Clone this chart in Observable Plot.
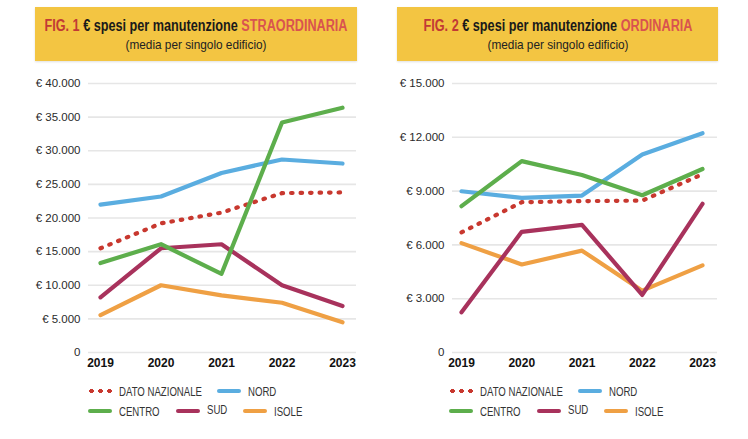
<!DOCTYPE html>
<html>
<head>
<meta charset="utf-8">
<script src="https://cdn.jsdelivr.net/npm/d3@7"></script>
<script src="https://cdn.jsdelivr.net/npm/@observablehq/plot@0.6"></script>
<style>
  html, body { margin: 0; padding: 0; background: #fff; }
  body { width: 748px; height: 439px; position: relative; overflow: hidden;
         font-family: "Liberation Sans", Arial, sans-serif; }
  .header { position: absolute; top: 7px; height: 54px; background: #F3C542;
            box-shadow: 0 1px 2px rgba(0,0,0,0.12); }
  .fit { position: absolute; left: 50%; white-space: nowrap; transform-origin: center; }
  .title { top: 9px; font-weight: bold; font-size: 16px; color: #1a1a1a; line-height: 19px; }
  .title .fig { color: #C23A35; }
  .title .kind { color: #D9534F; }
  .sub { top: 30px; font-size: 13px; color: #222; line-height: 16px; }
  .chart { position: absolute; top: 62px; }
  .legend { position: absolute; top: 380px; width: 374px; height: 50px; font-size: 13px; color: #333; }
  .item { position: absolute; display: flex; align-items: center; height: 16px; white-space: nowrap; }
  .item span { display: inline-block; transform-origin: left center; }
  .sw { width: 24px; height: 4px; border-radius: 2px; margin-right: 7px; flex: none; }
  .dots { width: 24px; height: 4px; margin-right: 7px; flex: none;
          background-image: radial-gradient(circle, #C8382F 2.1px, transparent 2.4px);
          background-size: 9px 4px; background-repeat: repeat-x; background-position: -1px 0; }
</style>
</head>
<body>
<div class="header" style="left:35px;width:322px;">
  <div class="fit title" data-w="303"><span class="fig">FIG. 1</span> € spesi per manutenzione <span class="kind">STRAORDINARIA</span></div>
  <div class="fit sub" data-w="141">(media per singolo edificio)</div>
</div>
<div class="header" style="left:397px;width:321px;">
  <div class="fit title" data-w="269"><span class="fig">FIG. 2</span> € spesi per manutenzione <span class="kind">ORDINARIA</span></div>
  <div class="fit sub" data-w="141">(media per singolo edificio)</div>
</div>
<div id="c1" class="chart" style="left:0px;"></div>
<div id="c2" class="chart" style="left:374px;"></div>
<div id="l1" class="legend" style="left:0px;"></div>
<div id="l2" class="legend" style="left:361px;"></div>
<script>
const years = [2019, 2020, 2021, 2022, 2023];
const seriesNames = ["DATO NAZIONALE", "NORD", "CENTRO", "SUD", "ISOLE"];
const seriesColors = ["#C8382F", "#5AADE0", "#5DAE4C", "#A8325C", "#EFA044"];

// FIG. 1 – manutenzione straordinaria
const strNazionale = [15500, 19200, 20800, 23700, 23800];
const strNord      = [22000, 23200, 26700, 28700, 28100];
const strCentro    = [13300, 16100, 11700, 34200, 36400];
const strSud       = [8200, 15500, 16100, 10000, 6900];
const strIsole     = [5550, 10000, 8500, 7400, 4500];
const strTicks     = [0, 5000, 10000, 15000, 20000, 25000, 30000, 35000, 40000];

// FIG. 2 – manutenzione ordinaria
const ordNazionale = [6700, 8380, 8440, 8470, 9940];
const ordNord      = [8990, 8620, 8750, 11040, 12230];
const ordCentro    = [8160, 10670, 9900, 8770, 10230];
const ordSud       = [2240, 6730, 7120, 3210, 8290];
const ordIsole     = [6100, 4910, 5680, 3450, 4860];
const ordTicks     = [0, 3000, 6000, 9000, 12000, 15000];

function table(arrs) {
  const rows = [];
  arrs.forEach((vals, i) => vals.forEach((v, j) => rows.push({series: seriesNames[i], year: years[j], value: v})));
  return rows;
}
const fmt = d => d === 0 ? "0" : "€ " + d3.format(",")(d).replace(/,/g, ".");

function chart(arrs, ticks, opts) {
  const data = table(arrs);
  const drawOrder = ["ISOLE", "SUD", "DATO NAZIONALE", "NORD", "CENTRO"];
  const marks = [
    Plot.gridY(ticks, {stroke: "#e6e6e6", strokeOpacity: 1, strokeWidth: 1.6}),
    Plot.axisY({ticks, tickFormat: fmt, tickSize: 0, tickPadding: 8, fontSize: 11.5, fill: "#2a2a2a", label: null}),
    Plot.axisX({ticks: years, tickFormat: "d", tickSize: 0, tickPadding: 6, fontSize: 12, fontWeight: "bold", fill: "#111", label: null})
  ];
  drawOrder.forEach(name => {
    const i = seriesNames.indexOf(name);
    const dotted = name === "DATO NAZIONALE";
    marks.push(Plot.line(data.filter(d => d.series === name), {
      x: "year", y: "value", stroke: seriesColors[i], strokeWidth: 4.2,
      strokeDasharray: dotted ? "1.5,8" : null, strokeLinecap: "round"
    }));
  });
  return Plot.plot({
    width: 374, height: 318,
    marginTop: 21, marginBottom: 28, marginLeft: opts.ml, marginRight: opts.mr,
    style: {fontFamily: '"Liberation Sans", Arial, sans-serif', background: "transparent"},
    x: {type: "linear", domain: [2019, 2023], insetLeft: opts.il, insetRight: opts.ir},
    y: {domain: [0, ticks[ticks.length - 1]]},
    marks
  });
}

document.getElementById("c1").append(chart([strNazionale, strNord, strCentro, strSud, strIsole], strTicks, {ml: 88, mr: 18, il: 12, ir: 14}));
document.getElementById("c2").append(chart([ordNazionale, ordNord, ordCentro, ordSud, ordIsole], ordTicks, {ml: 78, mr: 31, il: 9, ir: 15}));

// condense header texts to the reference widths
document.querySelectorAll(".fit").forEach(el => {
  const w = el.getBoundingClientRect().width;
  const k = (+el.dataset.w) / w;
  el.style.transform = `translateX(-50%) scaleX(${k})`;
});

function legend(el) {
  const pos = [
    {name: "DATO NAZIONALE", x: 88, y: 3},
    {name: "NORD", x: 217, y: 3},
    {name: "CENTRO", x: 88, y: 23},
    {name: "SUD", x: 176, y: 21},
    {name: "ISOLE", x: 243, y: 23}
  ];
  const spans = [];
  pos.forEach(p => {
    const i = seriesNames.indexOf(p.name);
    const item = document.createElement("div");
    item.className = "item";
    item.style.left = p.x + "px";
    item.style.top = p.y + "px";
    const sw = document.createElement("div");
    if (p.name === "DATO NAZIONALE") sw.className = "dots";
    else { sw.className = "sw"; sw.style.background = seriesColors[i]; }
    if (p.name === "SUD") sw.style.marginTop = "4px";
    const t = document.createElement("span");
    t.textContent = p.name;
    item.append(sw, t);
    el.append(item);
    spans.push(t);
  });
  const k = 83 / spans[0].getBoundingClientRect().width;
  spans.forEach(s => s.style.transform = `scaleX(${k})`);
}
legend(document.getElementById("l1"));
legend(document.getElementById("l2"));
</script>
</body>
</html>
